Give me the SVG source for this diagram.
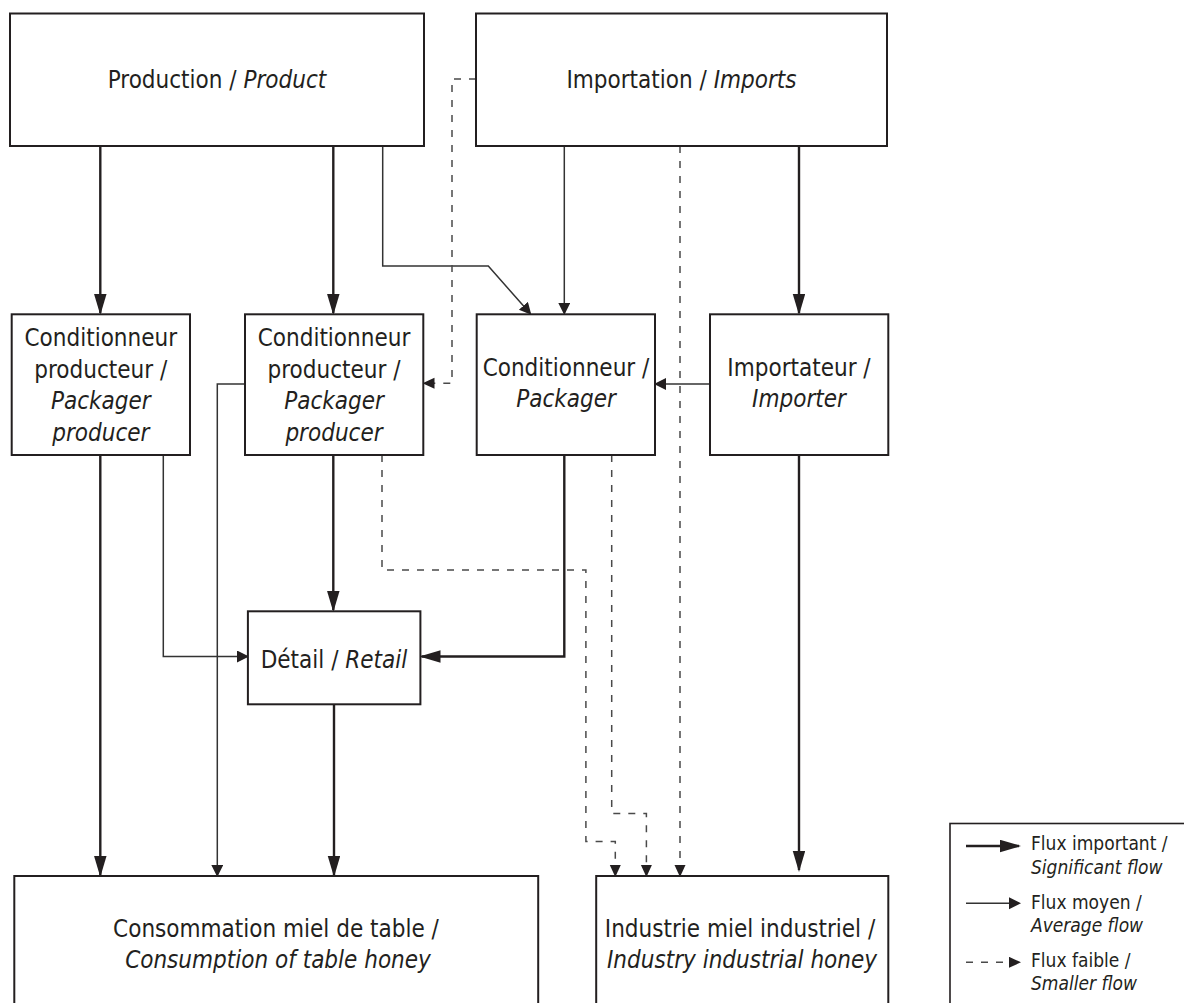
<svg xmlns="http://www.w3.org/2000/svg" width="1184" height="1003" viewBox="0 0 1184 1003">
<style>
.box{fill:#fff;stroke:#231f20;stroke-width:2}
.t{font-family:"DejaVu Sans Condensed","DejaVu Sans",sans-serif;font-stretch:condensed;font-size:24px;fill:#231f20;text-anchor:middle}
.lg{font-family:"DejaVu Sans Condensed","DejaVu Sans",sans-serif;font-stretch:condensed;font-size:19px;fill:#231f20}
.i{font-style:italic}
.thick{fill:none;stroke:#231f20;stroke-width:2.4;marker-end:url(#aThick)}
.thin{fill:none;stroke:#333;stroke-width:1.5;marker-end:url(#aThin)}
.dash{fill:none;stroke:#4a4a4a;stroke-width:1.5;stroke-dasharray:7 8;marker-end:url(#aDash)}
</style>
<defs>
<marker id="aThick" markerUnits="userSpaceOnUse" markerWidth="22" markerHeight="13" refX="19" refY="6.25" orient="auto"><path d="M0,0 L21,6.25 L0,12.5 z" fill="#231f20"/></marker>
<marker id="aThin" markerUnits="userSpaceOnUse" markerWidth="13" markerHeight="13" refX="10" refY="6" orient="auto"><path d="M0,0 L12,6 L0,12 z" fill="#231f20"/></marker>
<marker id="aDash" markerUnits="userSpaceOnUse" markerWidth="13" markerHeight="12" refX="10" refY="5.5" orient="auto"><path d="M0,0 L12,5.5 L0,11 z" fill="#231f20"/></marker>
</defs>
<rect width="1184" height="1003" fill="#fff"/>

<g id="connectors">
<path class="thick" d="M100.3,146 V313"/>
<path class="thick" d="M333.3,146 V313"/>
<path class="thick" d="M799,146 V313"/>
<path class="thick" d="M100.3,455 V875"/>
<path class="thick" d="M333.3,455 V610"/>
<path class="thick" d="M334,704.3 V875"/>
<path class="thick" d="M564.3,455 V656.5 H421.5"/>
<path class="thick" d="M799,455 V870"/>
<path class="thin" d="M564.3,146 V313"/>
<path class="thin" d="M382.7,146 V266 H488.3 L530,313.3"/>
<path class="thin" d="M710,384 H656"/>
<path class="thin" d="M163.3,455 V656.5 H247"/>
<path class="thin" d="M245,384 H217.3 V875"/>
<path class="dash" d="M476,79 H452 V383.3 H424.5"/>
<path class="dash" d="M680,146 V875"/>
<path class="dash" d="M611.7,455 V813.4 H646.4 V875"/>
<path class="dash" d="M382,455 V570 H585.9 V841.4 H615.3 V875"/>
</g>

<g id="production">
<rect class="box" x="10" y="13.5" width="414" height="132.5"/>
<text class="t" x="217" y="88">Production / <tspan class="i">Product</tspan></text>
</g>
<g id="importation">
<rect class="box" x="476" y="13.5" width="411" height="132.5"/>
<text class="t" x="681.5" y="88">Importation / <tspan class="i">Imports</tspan></text>
</g>
<g id="packager-producer-1">
<rect class="box" x="11.7" y="314.3" width="178.3" height="140.7"/>
<text class="t" x="100.8" y="346">Conditionneur</text>
<text class="t" x="100.8" y="377.5">producteur /</text>
<text class="t i" x="100.8" y="409">Packager</text>
<text class="t i" x="100.8" y="440.5">producer</text>
</g>
<g id="packager-producer-2">
<rect class="box" x="245" y="314.3" width="178.3" height="140.7"/>
<text class="t" x="334" y="346">Conditionneur</text>
<text class="t" x="334" y="377.5">producteur /</text>
<text class="t i" x="334" y="409">Packager</text>
<text class="t i" x="334" y="440.5">producer</text>
</g>
<g id="packager">
<rect class="box" x="476.7" y="314.3" width="178.3" height="140.7"/>
<text class="t" x="566" y="376">Conditionneur /</text>
<text class="t i" x="566" y="407.3">Packager</text>
</g>
<g id="importer">
<rect class="box" x="710" y="314.3" width="178.3" height="140.7"/>
<text class="t" x="799" y="376">Importateur /</text>
<text class="t i" x="799" y="407.3">Importer</text>
</g>
<g id="retail">
<rect class="box" x="247.9" y="611.3" width="172.5" height="93"/>
<text class="t" x="334" y="668">Détail / <tspan class="i">Retail</tspan></text>
</g>
<g id="consumption">
<rect class="box" x="14.3" y="876" width="523.9" height="140"/>
<text class="t" x="276" y="937">Consommation miel de table /</text>
<text class="t i" x="278" y="968">Consumption of table honey</text>
</g>
<g id="industry">
<rect class="box" x="596.2" y="876" width="292.1" height="140"/>
<text class="t" x="740" y="937">Industrie miel industriel /</text>
<text class="t i" x="742" y="968">Industry industrial honey</text>
</g>

<g id="legend">
<rect x="950" y="823.5" width="260" height="200" fill="#fff" stroke="#231f20" stroke-width="1.6"/>
<line x1="966" y1="846" x2="1019" y2="846" stroke="#231f20" stroke-width="2.4" marker-end="url(#aThick)"/>
<line x1="966" y1="903.3" x2="1019" y2="903.3" stroke="#333" stroke-width="1.5" marker-end="url(#aThin)"/>
<line x1="966" y1="962.3" x2="1019" y2="962.3" stroke="#4a4a4a" stroke-width="1.5" stroke-dasharray="7 8" marker-end="url(#aDash)"/>
<text class="lg" x="1031" y="849.5">Flux important /</text>
<text class="lg i" x="1031" y="873.5">Significant flow</text>
<text class="lg" x="1031" y="908.5">Flux moyen /</text>
<text class="lg i" x="1031" y="932">Average flow</text>
<text class="lg" x="1031" y="967">Flux faible /</text>
<text class="lg i" x="1031" y="990">Smaller flow</text>
</g>
</svg>
